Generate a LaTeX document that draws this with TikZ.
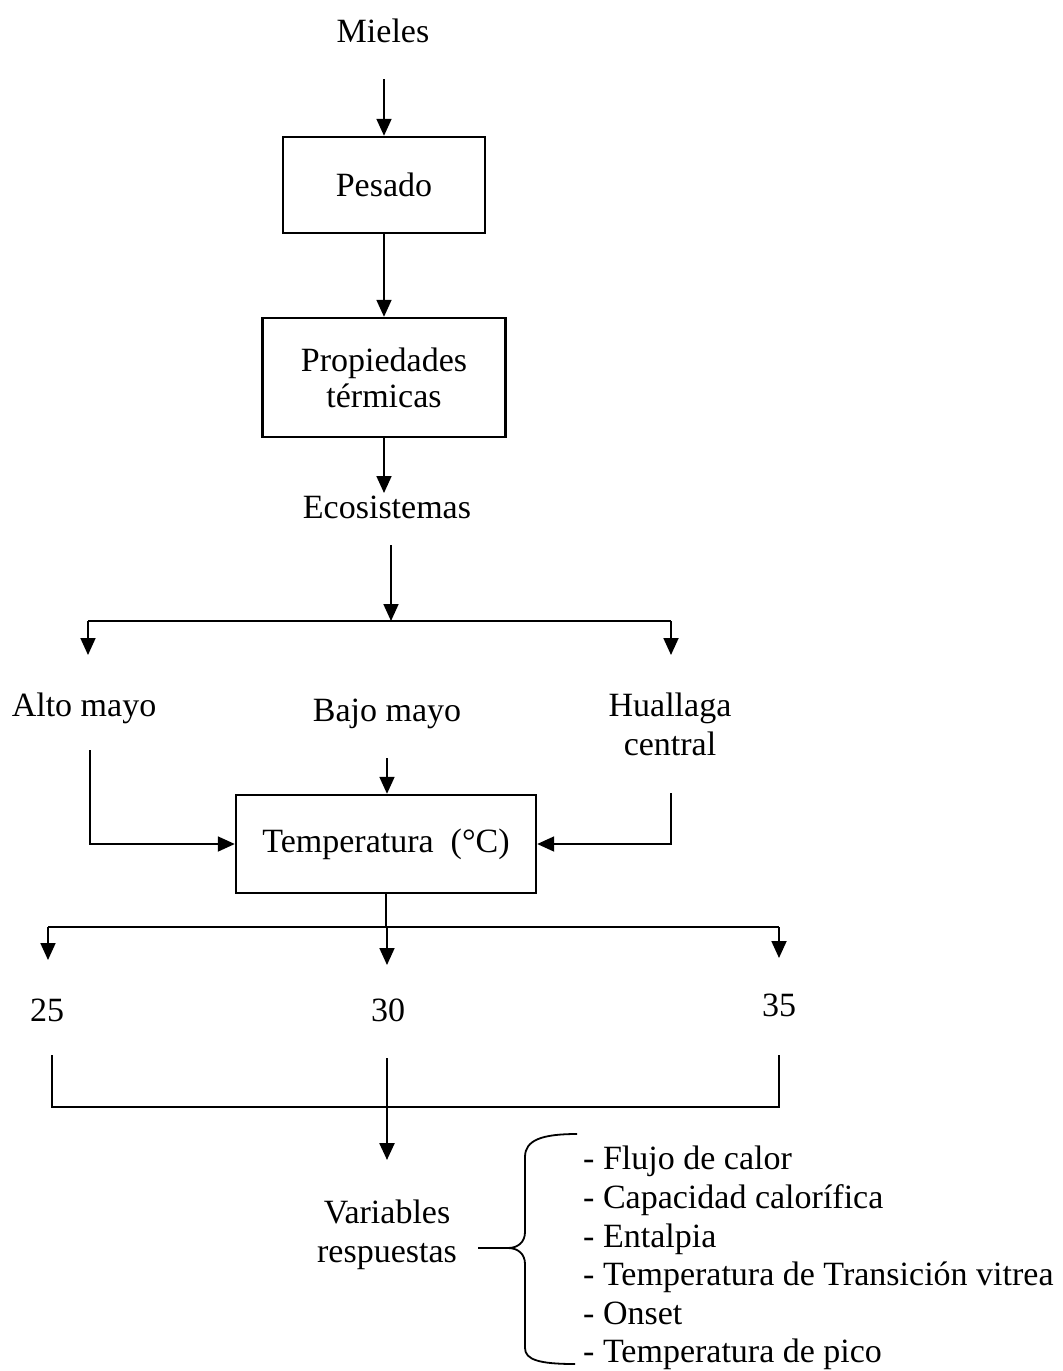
\documentclass[tikz,border=0pt]{standalone}
\usepackage{fontspec}
\setmainfont{Liberation Serif}
\usetikzlibrary{arrows.meta}
\begin{document}
\begin{tikzpicture}[x=1pt,y=-1pt,
  every node/.style={font=\fontsize{34}{39}\selectfont, inner sep=0pt},
  box/.style={draw, line width=2.4pt, align=center},
  lbl/.style={anchor=base},
  ml/.style={anchor=north, align=center},
  conn/.style={line width=1.8pt},
  arr/.style={conn, -{Triangle[width=15pt,length=17pt]}},
]
\useasboundingbox (0,0) rectangle (1063,1371);

% nodes
\node[lbl] (mieles) at (383,42) {Mieles};
\node[box, minimum width=202pt, minimum height=96pt] (pesado) at (384,185) {Pesado};
\node[box, minimum width=243pt, minimum height=119pt] (prop) at (384,377.5) {Propiedades\\[-3pt]térmicas};
\node[lbl] (eco) at (387,518) {Ecosistemas};
\node[lbl] (alto) at (84,716) {Alto mayo};
\node[lbl] (bajo) at (387,721) {Bajo mayo};
\node[ml] (hual) at (670,693) {Huallaga\\central};
\node[box, minimum width=300pt, minimum height=98pt] (temp) at (386,844) {Temperatura\ \ (°C)};
\node[lbl] (t25) at (47,1021) {25};
\node[lbl] (t30) at (388,1021) {30};
\node[lbl] (t35) at (779,1016) {35};
\node[ml] (vr) at (387,1200) {Variables\\respuestas};
\node[anchor=north west, align=left, font=\fontsize{34}{38.6}\selectfont] (list) at (583,1146) {- Flujo de calor\\- Capacidad calorífica\\- Entalpia\\- Temperatura de Transición vitrea\\- Onset\\- Temperatura de pico};

% coordinates
\coordinate (m1) at (384,79);
\coordinate (e0) at (384,493);
\coordinate (e1) at (391,545);
\coordinate (split1) at (391,621);
\coordinate (sl) at (88,621);
\coordinate (sr) at (671,621);
\coordinate (a1) at (90,750);
\coordinate (b1) at (387,758);
\coordinate (h1) at (671,793);
\coordinate (t2) at (387,927);
\coordinate (tl) at (48,927);
\coordinate (tr) at (779,927);
\coordinate (c1) at (52,1055);
\coordinate (c2) at (387,1058);
\coordinate (c3) at (779,1055);
\coordinate (j) at (387,1107);
\coordinate (v0) at (387,1160);
\coordinate (bp) at (508,1248);
\coordinate (bs) at (478,1248);

% connectors
\draw[arr] (m1) -- (pesado.north);
\draw[arr] (pesado.south) -- (pesado.south |- prop.north);
\draw[arr] (prop.south) -- (e0);
\draw[arr] (e1) -- (split1);
\draw[conn] (sl) -- (sr);
\draw[arr] (sl) -- ++(0,34);
\draw[arr] (sr) -- ++(0,34);
\draw[arr] (a1) |- (temp.west);
\draw[arr] (b1) -- (b1 |- temp.north);
\draw[arr] (h1) |- (temp.east);
\draw[line width=2.6pt] (temp.south) -- (temp.south |- t2);
\draw[conn] (tl) -- (tr);
\draw[arr] (tl) -- ++(0,33);
\draw[arr] (t2) -- ++(0,38);
\draw[arr] (tr) -- ++(0,31);
\draw[conn] (c1) |- (j) -| (c3);
\draw[arr, line width=2.4pt] (c2) -- (v0);
\draw[conn] (bs) -- (bp);
\draw[conn] (577,1134) .. controls (542,1134) and (525,1140) .. (525,1157) -- (525,1232)
  .. controls (525,1242) and (518,1248) .. (bp)
  .. controls (518,1248) and (525,1254) .. (525,1264) -- (525,1348)
  .. controls (525,1360) and (540,1364) .. (575,1364);
\end{tikzpicture}
\end{document}
